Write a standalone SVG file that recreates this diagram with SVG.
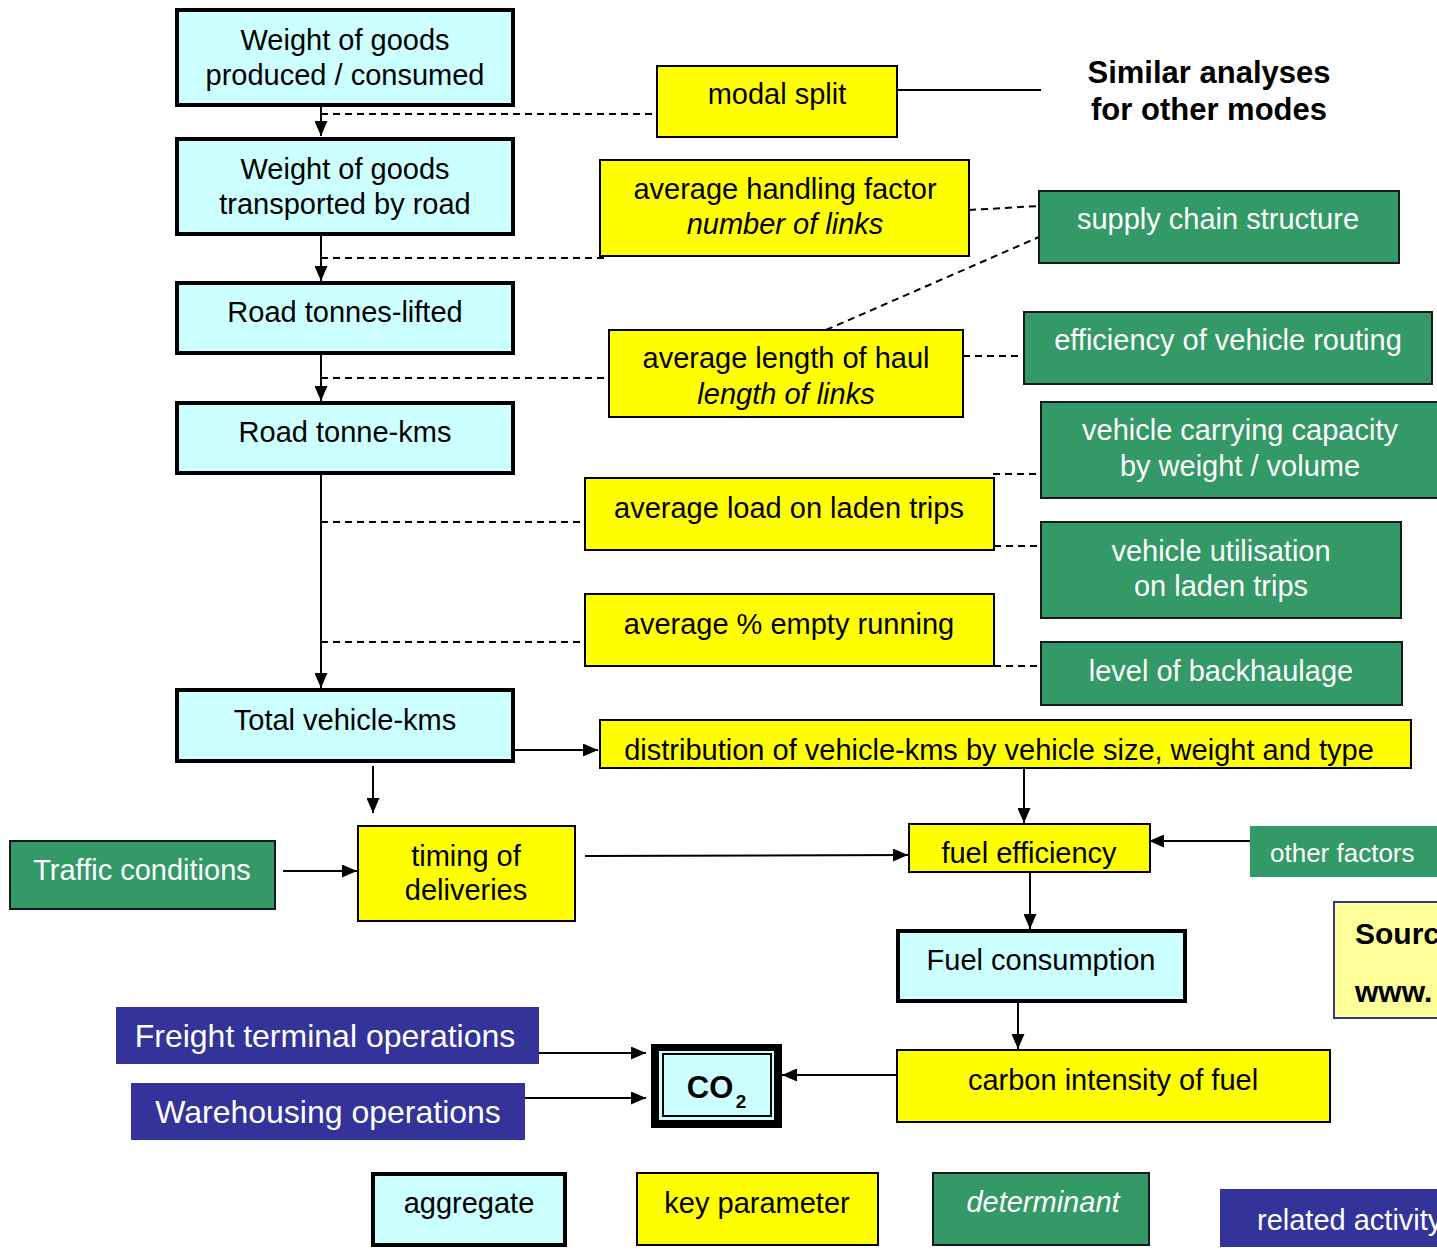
<svg xmlns="http://www.w3.org/2000/svg" width="1437" height="1253" viewBox="0 0 1437 1253">
<defs>
<marker id="arr" viewBox="0 0 15 13" refX="15" refY="6.5" markerWidth="15" markerHeight="13" markerUnits="userSpaceOnUse" orient="auto">
<path d="M0,0 L15,6.5 L0,13 Z" fill="#000"/>
</marker>
</defs>
<style>
text{font-family:"Liberation Sans",Arial,sans-serif;font-size:29px;text-anchor:middle}
.agg{fill:#CCFFFF;stroke:#000;stroke-width:4}
.key{fill:#FFFF00;stroke:#000;stroke-width:2}
.det{fill:#339966;stroke:#1a1a1a;stroke-width:2}
.rel{fill:#333399}
.wt{fill:#fff}
.it{font-style:italic}
.b{font-weight:bold}
.ln{stroke:#000;stroke-width:2;fill:none}
.dash{stroke:#000;stroke-width:2;fill:none;stroke-dasharray:7,5}
</style>
<rect width="1437" height="1253" fill="#fff"/>

<g id="connectors">
<line class="ln" x1="321" y1="90" x2="321" y2="136" marker-end="url(#arr)"/>
<line class="ln" x1="321" y1="235" x2="321" y2="281" marker-end="url(#arr)"/>
<line class="ln" x1="321" y1="354" x2="321" y2="401" marker-end="url(#arr)"/>
<line class="ln" x1="321" y1="474" x2="321" y2="688" marker-end="url(#arr)"/>
<line class="dash" x1="321" y1="114" x2="657" y2="114"/>
<line class="dash" x1="321" y1="258" x2="607" y2="258"/>
<line class="dash" x1="321" y1="378" x2="609" y2="378"/>
<line class="dash" x1="321" y1="522" x2="585" y2="522"/>
<line class="dash" x1="321" y1="642" x2="585" y2="642"/>
<line class="dash" x1="969" y1="210" x2="1039" y2="206"/>
<line class="dash" x1="826" y1="330" x2="1039" y2="237"/>
<line class="dash" x1="963" y1="356" x2="1024" y2="356"/>
<line class="dash" x1="993" y1="474" x2="1041" y2="474"/>
<line class="dash" x1="994" y1="546" x2="1041" y2="546"/>
<line class="dash" x1="994" y1="666" x2="1041" y2="666"/>
<line class="ln" x1="897" y1="90" x2="1041" y2="90"/>
<line class="ln" x1="510" y1="750" x2="598" y2="750" marker-end="url(#arr)"/>
<line class="ln" x1="373" y1="766" x2="373" y2="813" marker-end="url(#arr)"/>
<line class="ln" x1="283" y1="871" x2="357" y2="871" marker-end="url(#arr)"/>
<line class="ln" x1="585" y1="856" x2="908" y2="855" marker-end="url(#arr)"/>
<line class="ln" x1="1024" y1="765" x2="1024" y2="823" marker-end="url(#arr)"/>
<line class="ln" x1="1250" y1="841" x2="1149" y2="841" marker-end="url(#arr)"/>
<line class="ln" x1="1030" y1="872" x2="1030" y2="929" marker-end="url(#arr)"/>
<line class="ln" x1="1018" y1="1002" x2="1018" y2="1049" marker-end="url(#arr)"/>
<line class="ln" x1="897" y1="1075" x2="782" y2="1075" marker-end="url(#arr)"/>
<line class="ln" x1="539" y1="1053" x2="646" y2="1053" marker-end="url(#arr)"/>
<line class="ln" x1="525" y1="1098" x2="646" y2="1098" marker-end="url(#arr)"/>
</g>

<g id="n-weight-produced"><rect class="agg" x="177" y="10" width="336" height="95"/><text x="345" y="50">Weight of goods</text><text x="345" y="85">produced / consumed</text></g>
<g id="n-weight-road"><rect class="agg" x="177" y="139" width="336" height="95"/><text x="345" y="179">Weight of goods</text><text x="345" y="214">transported by road</text></g>
<g id="n-tonnes-lifted"><rect class="agg" x="177" y="283" width="336" height="70"/><text x="345" y="322">Road tonnes-lifted</text></g>
<g id="n-tonne-kms"><rect class="agg" x="177" y="403" width="336" height="70"/><text x="345" y="442">Road tonne-kms</text></g>
<g id="n-vehicle-kms"><rect class="agg" x="177" y="690" width="336" height="71"/><text x="345" y="730">Total vehicle-kms</text></g>
<g id="n-fuel-consumption"><rect class="agg" x="898" y="931" width="287" height="70"/><text x="1041" y="970">Fuel consumption</text></g>
<g id="n-co2"><rect x="651" y="1044" width="131" height="84" fill="#000"/><rect x="659" y="1051" width="115" height="69" fill="#CCFFFF"/><rect x="663" y="1054" width="108" height="62" fill="none" stroke="#000" stroke-width="2"/><text x="710" y="1098" class="b" style="font-size:31px">CO</text><text x="741" y="1108" class="b" style="font-size:19px">2</text></g>

<g id="n-modal-split"><rect class="key" x="657" y="66" width="240" height="71"/><text x="777" y="104">modal split</text></g>
<g id="n-handling"><rect class="key" x="600" y="160" width="369" height="96"/><text x="785" y="199">average handling factor</text><text x="785" y="234" class="it">number of links</text></g>
<g id="n-haul"><rect class="key" x="609" y="330" width="354" height="87"/><text x="786" y="368">average length of haul</text><text x="786" y="404" class="it">length of links</text></g>
<g id="n-load"><rect class="key" x="585" y="478" width="409" height="72"/><text x="789" y="518">average load on laden trips</text></g>
<g id="n-empty"><rect class="key" x="585" y="594" width="409" height="72"/><text x="789" y="634">average % empty running</text></g>
<g id="n-distribution"><rect class="key" x="600" y="720" width="811" height="48"/><text x="999" y="760">distribution of vehicle-kms by vehicle size, weight and type</text></g>
<g id="n-timing"><rect class="key" x="358" y="826" width="217" height="95"/><text x="466" y="866">timing of</text><text x="466" y="900">deliveries</text></g>
<g id="n-fuel-eff"><rect class="key" x="909" y="824" width="241" height="48"/><text x="1029" y="863">fuel efficiency</text></g>
<g id="n-carbon"><rect class="key" x="897" y="1050" width="433" height="72"/><text x="1113" y="1090">carbon intensity of fuel</text></g>

<g id="n-supply"><rect class="det" x="1039" y="191" width="360" height="72"/><text x="1218" y="229" class="wt">supply chain structure</text></g>
<g id="n-routing"><rect class="det" x="1024" y="312" width="408" height="72"/><text x="1228" y="350" class="wt">efficiency of vehicle routing</text></g>
<g id="n-capacity"><rect class="det" x="1041" y="402" width="400" height="96"/><text x="1240" y="440" class="wt">vehicle carrying capacity</text><text x="1240" y="476" class="wt">by weight / volume</text></g>
<g id="n-utilisation"><rect class="det" x="1041" y="522" width="360" height="96"/><text x="1221" y="561" class="wt">vehicle utilisation</text><text x="1221" y="596" class="wt">on laden trips</text></g>
<g id="n-backhaulage"><rect class="det" x="1041" y="642" width="361" height="63"/><text x="1221" y="681" class="wt">level of backhaulage</text></g>
<g id="n-traffic"><rect class="det" x="10" y="841" width="265" height="68"/><text x="142" y="880" class="wt">Traffic conditions</text></g>
<g id="n-other"><rect x="1250" y="826" width="190" height="51" fill="#339966"/><text x="1270" y="862" class="wt" style="font-size:26px;text-anchor:start">other factors</text></g>

<g id="n-freight"><rect class="rel" x="116" y="1007" width="423" height="57"/><text x="325" y="1047" class="wt" style="font-size:32px">Freight terminal operations</text></g>
<g id="n-warehousing"><rect class="rel" x="131" y="1083" width="394" height="57"/><text x="328" y="1123" class="wt" style="font-size:32px">Warehousing operations</text></g>

<g id="n-similar"><text x="1209" y="83" class="b" style="font-size:31px">Similar analyses</text><text x="1209" y="120" class="b" style="font-size:31px">for other modes</text></g>

<g id="n-source"><rect x="1334" y="902" width="110" height="116" fill="#FFFF99" stroke="#333399" stroke-width="2"/><text x="1355" y="944" class="b" style="font-size:30px;text-anchor:start">Source</text><text x="1355" y="1002" class="b" style="font-size:30px;text-anchor:start">www.</text></g>

<g id="legend-aggregate"><rect class="agg" x="373" y="1174" width="192" height="71"/><text x="469" y="1213">aggregate</text></g>
<g id="legend-key"><rect class="key" x="637" y="1173" width="241" height="72"/><text x="757" y="1213">key parameter</text></g>
<g id="legend-determinant"><rect class="det" x="933" y="1173" width="216" height="72"/><text x="1043" y="1212" class="wt it">determinant</text></g>
<g id="legend-related"><rect class="rel" x="1220" y="1189" width="230" height="58"/><text x="1257" y="1230" class="wt" style="text-anchor:start;font-size:29px">related activity</text></g>
</svg>
